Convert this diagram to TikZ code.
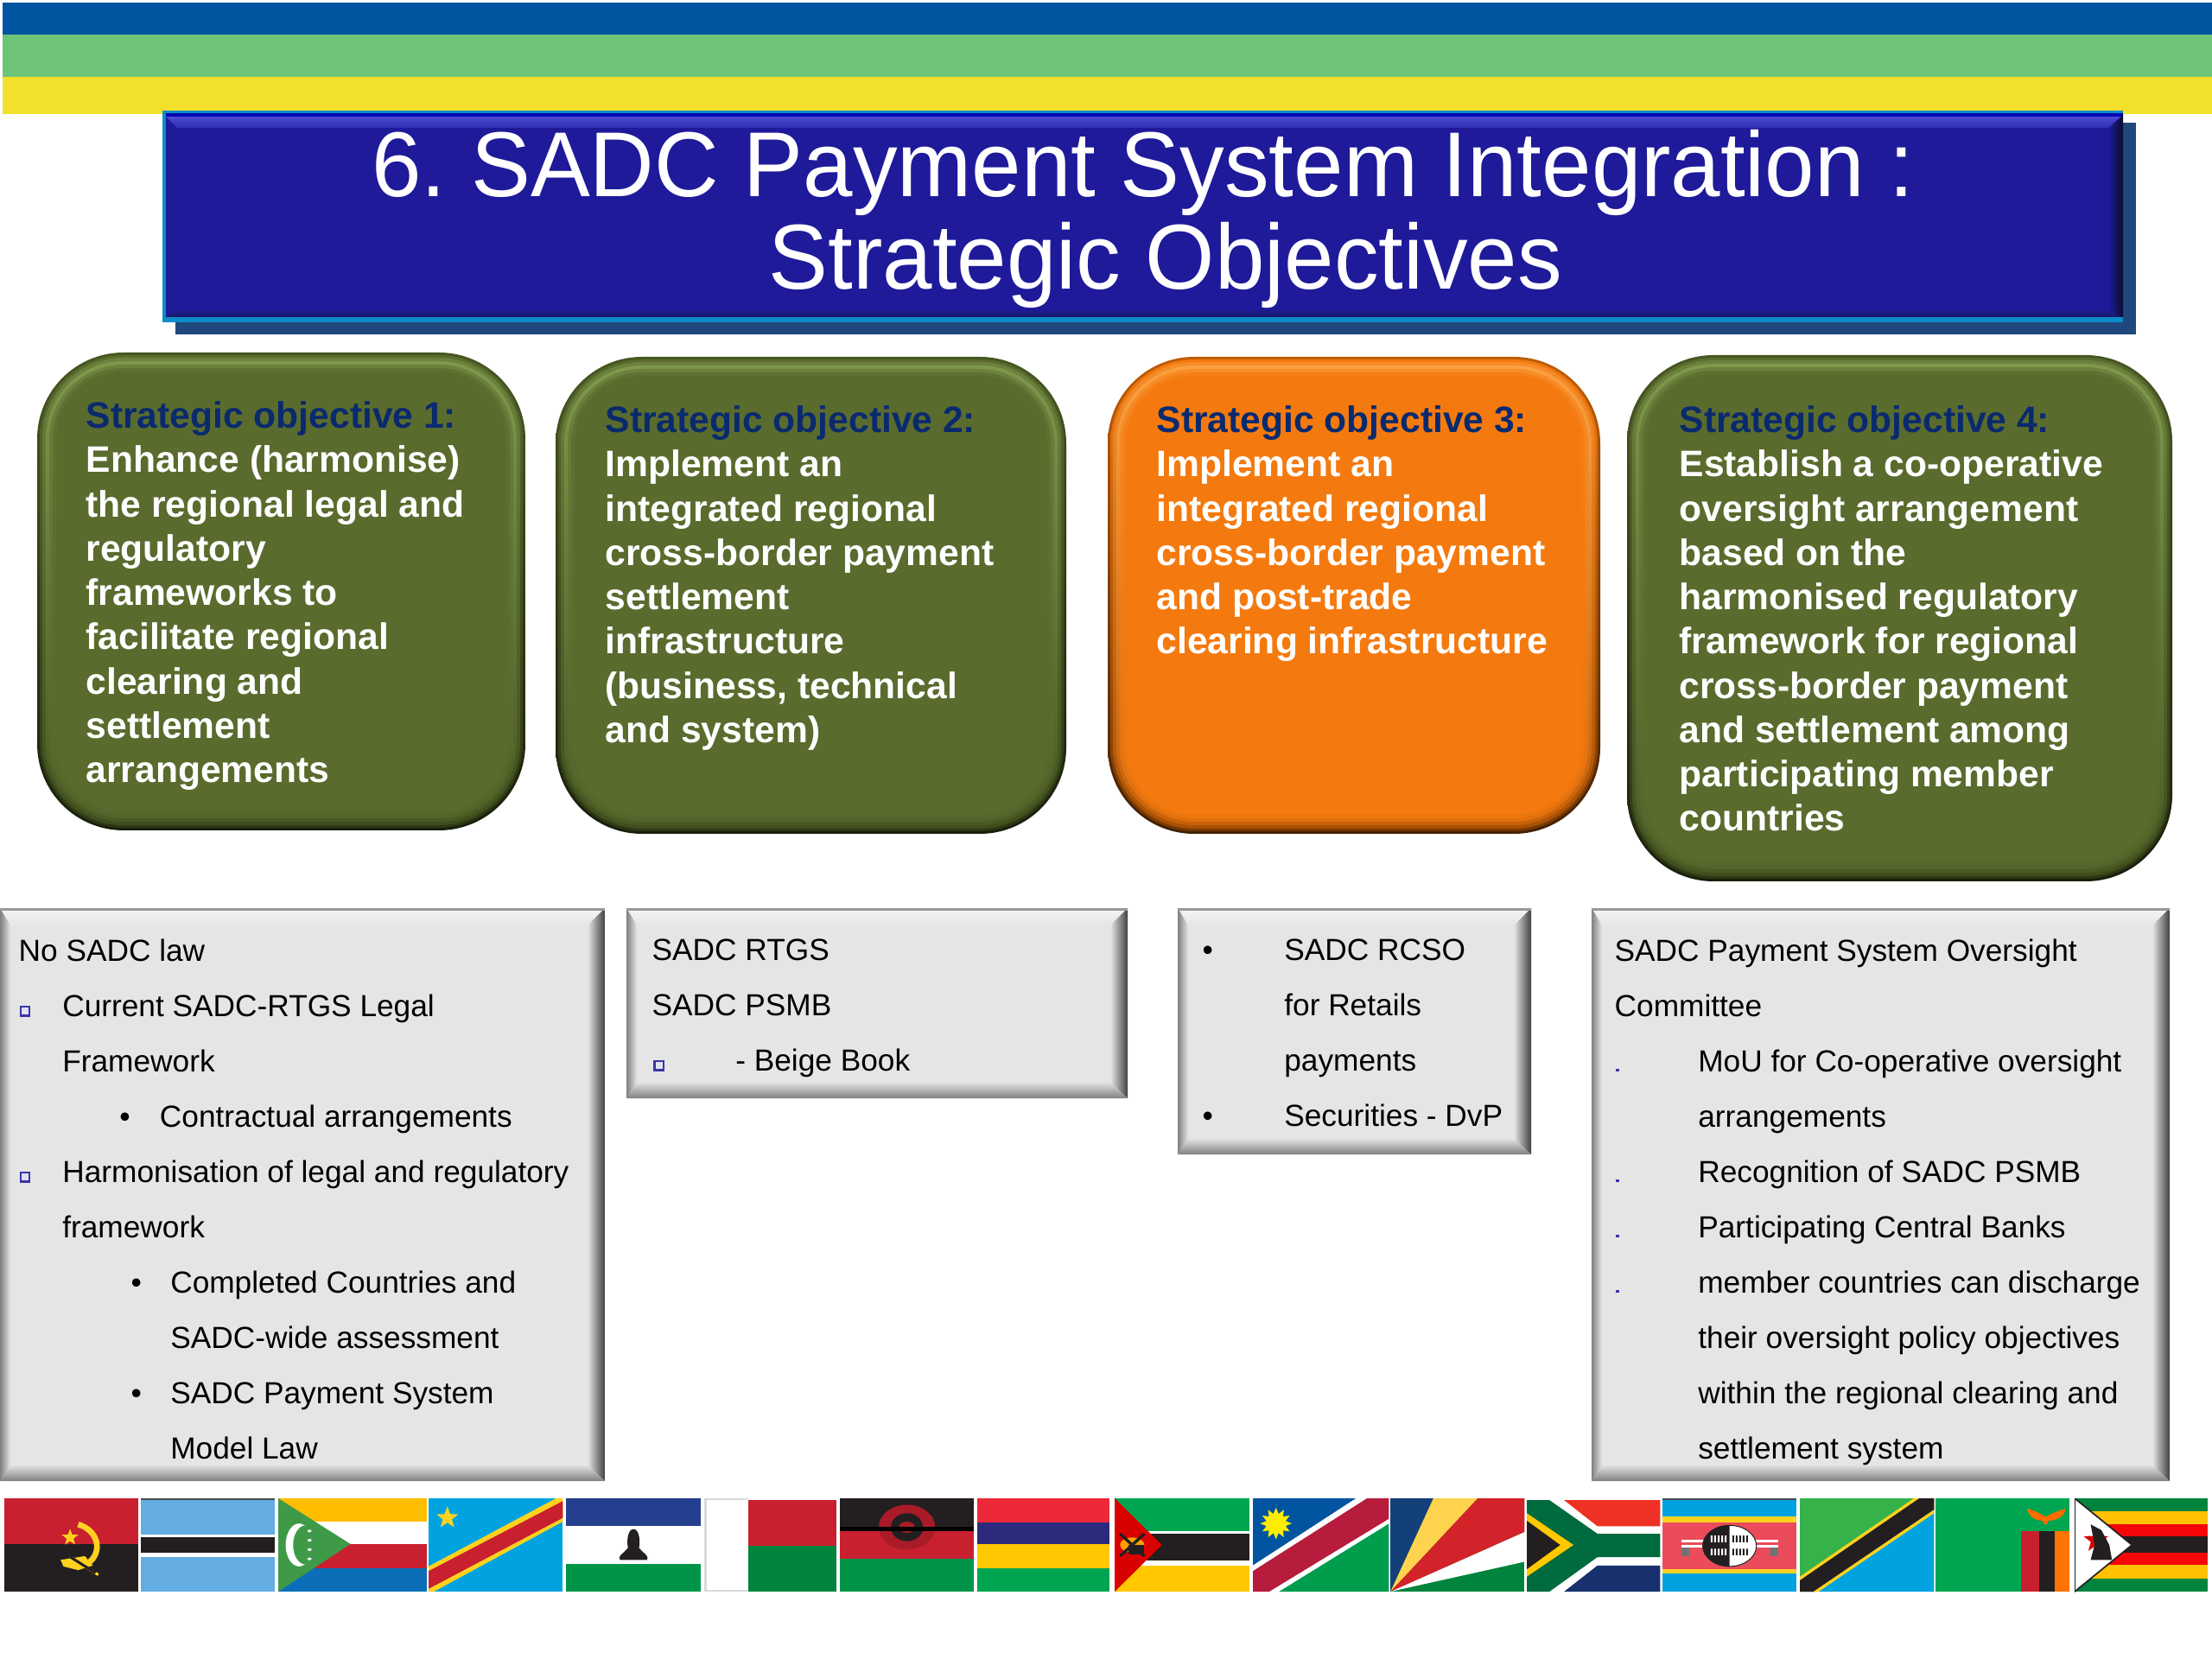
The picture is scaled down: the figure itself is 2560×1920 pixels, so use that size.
\documentclass[tikz,border=0pt]{standalone}
\usepackage{fontspec}
\setmainfont{Liberation Sans}
\newfontfamily\titlefont[FakeStretch=0.968]{Liberation Sans}
\usetikzlibrary{shapes.geometric}
\definecolor{gMain}{HTML}{5A6B2E}
\definecolor{gHi}{HTML}{7E984C}
\definecolor{gLo}{HTML}{3F4E1C}
\definecolor{oMain}{HTML}{F47A0F}
\definecolor{oHi}{HTML}{FBA040}
\definecolor{oLo}{HTML}{A85004}
\definecolor{navy}{HTML}{0A2A6E}
\definecolor{bsqc}{HTML}{3A35A8}
\definecolor{sBlue}{HTML}{0054A0}
\definecolor{sGreen}{HTML}{6EC476}
\definecolor{sYellow}{HTML}{F2E02A}
\definecolor{tFill}{HTML}{1E1A9A}
\definecolor{tEdge}{HTML}{0B8CCB}
\definecolor{tShadow}{HTML}{20487C}
\definecolor{tHi}{HTML}{4B4BD0}
\definecolor{tLo}{HTML}{1A1A66}
\definecolor{fRed}{HTML}{C8202F}
\definecolor{fBlack}{HTML}{231F20}
\definecolor{fYellow}{HTML}{FFC800}
\definecolor{fGreen}{HTML}{00A551}
\definecolor{fDGreen}{HTML}{00843D}
\definecolor{fLBlue}{HTML}{00A3E0}
\definecolor{fNavy}{HTML}{243F8E}
\definecolor{bwSky}{HTML}{63ADE2}
\definecolor{muRed}{HTML}{ED2939}
\definecolor{muNavy}{HTML}{2B2A7C}
\definecolor{naRed}{HTML}{B71C3C}
\definecolor{scBlue}{HTML}{14407A}
\definecolor{scYel}{HTML}{FFD34D}
\definecolor{scRed}{HTML}{D2232A}
\definecolor{zaGreen}{HTML}{006B3F}
\definecolor{zaNavy}{HTML}{17316E}
\definecolor{zaRed}{HTML}{EE3124}
\definecolor{tzGreen}{HTML}{35B34A}
\definecolor{kmBlue}{HTML}{0A6EB8}
\definecolor{kmGreen}{HTML}{3F9A48}
\definecolor{szRed}{HTML}{EC4B5B}
\definecolor{emb}{HTML}{FFD21F}
\tikzset{
 titletext/.style={anchor=north,inner sep=0pt,align=center,text=white,font=\titlefont\frenchspacing\fontsize{32}{32}\selectfont},
 objtext/.style={anchor=north west,inner sep=0pt,align=left,text=white,font=\bfseries\fontsize{12.78}{15.38}\selectfont},
 listtext/.style={anchor=north west,inner sep=0pt,align=left,text=black,font=\fontsize{10.58}{19.2}\selectfont},
 flagstar/.style={star,star points=5,star point ratio=2.4,inner sep=0pt,minimum size=#1}
}
\newcommand\softbox[5]{%
 \foreach \i/\tc/\bc in {0/#5Lo!70!#5Main/black!60!#5Lo,
   3/#5Main/#5Lo!70!black,
   6/#5Hi!50!#5Main/#5Lo,
   10/#5Hi/#5Lo!60!#5Main,
   14/#5Hi!50!#5Main/#5Lo!25!#5Main,
   18/#5Hi!15!#5Main/#5Lo!10!#5Main,
   22/#5Main/#5Main}{%
  \pgfmathsetmacro\rr{(100-\i)*0.3}%
  \shade[rounded corners=\rr pt,top color=\tc,bottom color=\bc]
    ({#1+\i},{#2+\i}) rectangle ({#3-\i},{#4-\i});
 }}
\newcommand\bevelbox[4]{%
 \fill[black!10] (#1,#2) rectangle (#3,#4);
 \shade[top color=white!96!black,bottom color=black!10]
   (#1,#2) -- (#3,#2) -- ({#3-20},{#2+20}) -- ({#1+12},{#2+20}) -- cycle;
 \shade[left color=black!50,right color=black!10]
   (#1,#2) -- ({#1+12},{#2+20}) -- ({#1+12},{#4-18}) -- (#1,#4) -- cycle;
 \shade[left color=black!10,right color=black!75]
   (#3,#2) -- ({#3-20},{#2+20}) -- ({#3-20},{#4-18}) -- (#3,#4) -- cycle;
 \shade[top color=black!12,bottom color=black!50]
   (#1,#4) -- ({#1+12},{#4-18}) -- ({#3-20},{#4-18}) -- (#3,#4) -- cycle;
 \fill[black!40] (#1,#2) rectangle (#3,{#2+3});
}
\newcommand\flagopen[2]{\begin{scope}[shift={(#1,1734)}]\pgfmathsetmacro\fw{(#2)*0.003}\begin{scope}[x=\fw pt,y=-0.324pt]\clip (0,0) rectangle (100,100);}
\newcommand\flagclose{\end{scope}\end{scope}}
\newcommand\bsq{\raisebox{0.1ex}{\setlength\fboxsep{0pt}\setlength\fboxrule{0.7pt}\fcolorbox{bsqc}{white!85!bsqc}{\rule{0pt}{2.4pt}\hspace{2.4pt}}}}
\newcommand\bdot{\textcolor{bsqc}{\rule{1pt}{1pt}}}
\newcommand\itm[3]{\hspace*{#1}\makebox[\dimexpr#2-#1\relax][l]{#3}}
\begin{document}
\begin{tikzpicture}[x=0.3pt,y=-0.3pt]
\useasboundingbox (0,0) rectangle (2560,1920);
\fill[white] (0,0) rectangle (2560,1920);
% top stripes
\fill[sBlue] (3,3) rectangle (2560,40);
\fill[sGreen] (3,40) rectangle (2560,89);
\fill[sYellow] (3,89) rectangle (2560,132);
% title banner
\fill[tShadow] (203,142) rectangle (2472,387);
\fill[tEdge] (188,128) rectangle (2457,373);
\fill[tFill] (192,131) rectangle (2457,367);
\fill[blue!70!black] (192,131) rectangle (2457,135);
\shade[top color=tHi,bottom color=tHi!40!tFill] (192,135) -- (2455,135) -- (2440,148) -- (205,148) -- cycle;
\shade[left color=tFill,right color=black!55!tLo] (2455,135) -- (2440,148) -- (2440,357) -- (2455,367) -- (2457,367) -- (2457,131) -- cycle;
\shade[top color=tFill,bottom color=tLo] (192,367) -- (2455,367) -- (2440,357) -- (205,357) -- cycle;
\node[titletext] (title) at (1349,150) {6. SADC Payment System Integration :\hspace*{15.7pt}\\Strategic Objectives};
% objective boxes
\softbox{43}{408}{608}{961}{g}
\softbox{643}{413}{1234}{965}{g}
\softbox{1282}{413}{1852}{965}{o}
\softbox{1883}{411}{2514}{1020}{g}
\node[objtext] (obj1) at (99,464) {\textcolor{navy}{Strategic objective 1:}\\Enhance (harmonise)\\the regional legal and\\regulatory\\frameworks to\\facilitate regional\\clearing and\\settlement\\arrangements};
\node[objtext] (obj2) at (700,469) {\textcolor{navy}{Strategic objective 2:}\\Implement an\\integrated regional\\cross-border payment\\settlement\\infrastructure\\(business, technical\\and system)};
\node[objtext] (obj3) at (1338,469) {\textcolor{navy}{Strategic objective 3:}\\Implement an\\integrated regional\\cross-border payment\\and post-trade\\clearing infrastructure};
\node[objtext] (obj4) at (1943,469) {\textcolor{navy}{Strategic objective 4:}\\Establish a co-operative\\oversight arrangement\\based on the\\harmonised regulatory\\framework for regional\\cross-border payment\\and settlement among\\participating member\\countries};
% list boxes
\bevelbox{0}{1051}{700}{1714}
\bevelbox{725}{1051}{1305}{1271}
\bevelbox{1363}{1051}{1772}{1336}
\bevelbox{1842}{1051}{2511}{1714}
\node[listtext] (listA) at (21,1086) {No SADC law\\
\itm{0.3pt}{15.2pt}{\bsq}Current SADC-RTGS Legal\\
\hspace*{15.2pt}Framework\\
\itm{35pt}{49pt}{•}Contractual arrangements\\
\itm{0.3pt}{15.2pt}{\bsq}Harmonisation of legal and regulatory\\
\hspace*{15.2pt}framework\\
\itm{39pt}{52.7pt}{•}Completed Countries and\\
\hspace*{52.7pt}SADC-wide assessment\\
\itm{39pt}{52.7pt}{•}SADC Payment System\\
\hspace*{52.7pt}Model Law};
\node[listtext] (listB) at (754,1086) {SADC RTGS\\SADC PSMB\\
\itm{0.5pt}{29pt}{\bsq}- Beige Book};
\node[listtext] (listC) at (1391,1086) {\itm{0pt}{28.4pt}{•}SADC RCSO\\
\hspace*{28.4pt}for Retails\\
\hspace*{28.4pt}payments\\
\itm{0pt}{28.4pt}{•}Securities - DvP};
\node[listtext] (listD) at (1868,1086) {SADC Payment System Oversight\\Committee\\
\itm{0.5pt}{29pt}{\bdot}MoU for Co-operative oversight\\
\hspace*{29pt}arrangements\\
\itm{0.5pt}{29pt}{\bdot}Recognition of SADC PSMB\\
\itm{0.5pt}{29pt}{\bdot}Participating Central Banks\\
\itm{0.5pt}{29pt}{\bdot}member countries can discharge\\
\hspace*{29pt}their oversight policy objectives\\
\hspace*{29pt}within the regional clearing and\\
\hspace*{29pt}settlement system};
% flags
% Angola
\flagopen{5}{155}
\fill[fRed] (0,0) rectangle (100,49);
\fill[fBlack] (0,49) rectangle (100,100);
\draw[emb,line width=2pt] (55,28) .. controls (70,34) and (74,58) .. (62,70);
\fill[emb] (42,66) -- (60,62) -- (66,72) -- (55,77) -- (44,73) -- cycle;
\draw[emb,line width=0.9pt] (48,62) -- (70,82);
\draw[fBlack,line width=0.9pt] (46,60) -- (68,80);
\node[flagstar=6pt,fill=emb] (agstar) at (49,42) {};
\flagclose
% Botswana
\flagopen{163}{155}
\fill[bwSky] (0,0) rectangle (100,100);
\fill[black!70] (0,0) rectangle (100,2);
\fill[white] (0,39) rectangle (100,63);
\fill[fBlack] (0,42) rectangle (100,58);
\flagclose
% Comoros
\flagopen{322}{172}
\fill[fYellow!85!orange] (0,0) rectangle (100,25);
\fill[white] (0,25) rectangle (100,49);
\fill[fRed] (0,49) rectangle (100,75);
\fill[kmBlue] (0,75) rectangle (100,100);
\fill[kmGreen] (0,0) -- (48.5,49) -- (0,100) -- cycle;
\fill[white] (14,50) ellipse [x radius=9,y radius=23];
\fill[kmGreen] (18.5,50) ellipse [x radius=8.5,y radius=21];
\foreach \d in {35,45,55,65}{\fill[white] (21,\d) ellipse [x radius=1.4,y radius=1.4];}
\flagclose
% DR Congo
\flagopen{496}{155}
\fill[fLBlue] (0,0) rectangle (100,100);
\fill[emb] (0,73) -- (95,0) -- (100,0) -- (100,25) -- (4,100) -- (0,100) -- cycle;
\fill[fRed] (0,78) -- (100,3) -- (100,21) -- (0,97) -- cycle;
\node[flagstar=8pt,fill=emb] (cdstar) at (14,21) {};
\flagclose
% Lesotho
\flagopen{655}{156}
\fill[white] (0,0) rectangle (100,100);
\fill[fNavy] (0,0) rectangle (100,30);
\fill[fGreen!90!black] (0,70) rectangle (100,100);
\fill[fBlack] (50,33) .. controls (55,33) and (55,50) .. (54,53) .. controls (58,60) and (62,62) .. (60,66) -- (40,66) .. controls (38,62) and (42,60) .. (46,53) .. controls (45,50) and (45,33) .. (50,33) -- cycle;
\flagclose
% Madagascar
\flagopen{815}{153}
\fill[white] (0,0) rectangle (100,100);
\fill[fRed] (33,2) rectangle (100,51);
\fill[fDGreen] (33,51) rectangle (100,100);
\fill[black!15] (0,0) rectangle (2,100);
\fill[black!15] (0,0) rectangle (33,2);
\fill[black!15] (0,98) rectangle (33,100);
\flagclose
% Malawi
\flagopen{972}{155}
\fill[fBlack] (0,0) rectangle (100,35);
\fill[fRed] (0,35) rectangle (100,65);
\fill[fGreen!90!black] (0,65) rectangle (100,100);
\fill[fRed!85!black] (50,31) ellipse [x radius=21,y radius=24];
\fill[fBlack] (50,31) ellipse [x radius=12,y radius=15];
\fill[fRed!85!black] (50,31) ellipse [x radius=6,y radius=6];
\fill[black] (0,31) rectangle (100,35);
\flagclose
% Mauritius
\flagopen{1131}{153}
\fill[muRed] (0,0) rectangle (100,26);
\fill[muNavy] (0,26) rectangle (100,49);
\fill[fYellow] (0,49) rectangle (100,75);
\fill[fGreen] (0,75) rectangle (100,100);
\flagclose
% Mozambique
\flagopen{1290}{156}
\fill[fGreen] (0,0) rectangle (100,35);
\fill[white] (0,35) rectangle (100,72);
\fill[fBlack] (0,38) rectangle (100,67);
\fill[fYellow] (0,72) rectangle (100,100);
\fill[red!85!black] (0,0) -- (35,50) -- (0,100) -- cycle;
\fill[fYellow!80!red] (13,50) ellipse [x radius=9,y radius=8];
\draw[fBlack,line width=1pt] (4,38) -- (22,62) (22,38) -- (4,62);
\fill[fBlack] (10,50) rectangle (22,60);
\flagclose
% Namibia
\flagopen{1450}{157}
\fill[sBlue] (0,0) -- (76,0) -- (0,72) -- cycle;
\fill[fGreen!95!black] (100,27) -- (100,100) -- (19,100) -- cycle;
\fill[white] (0,72) -- (76,0) -- (100,0) -- (100,27) -- (19,100) -- (0,100) -- cycle;
\fill[naRed] (0,78) -- (84,0) -- (100,0) -- (100,22) -- (12,100) -- (0,100) -- cycle;
\node[star,star points=12,star point ratio=1.6,inner sep=0pt,minimum size=11pt,fill=yellow!95!orange] (nasun) at (17,27) {};
\flagclose
% Seychelles
\flagopen{1609}{155}
\fill[fDGreen] (0,0) rectangle (100,100);
\fill[white] (0,100) -- (100,36) -- (100,68) -- cycle;
\fill[scRed] (0,100) -- (65,0) -- (100,0) -- (100,36) -- cycle;
\fill[scYel] (0,100) -- (32,0) -- (65,0) -- cycle;
\fill[scBlue] (0,100) -- (0,0) -- (32,0) -- cycle;
\flagclose
% South Africa
\flagopen{1767}{154}
\fill[white] (0,0) rectangle (100,100);
\fill[zaRed] (28,2) -- (100,2) -- (100,30) -- (53,30) -- cycle;
\fill[zaNavy] (28,100) -- (100,100) -- (100,72) -- (53,72) -- cycle;
\fill[zaGreen] (0,2) -- (17,2) -- (53,38) -- (100,38) -- (100,63) -- (53,63) -- (17,100) -- (0,100) -- cycle;
\fill[fYellow] (0,16) -- (35,50) -- (0,84) -- cycle;
\fill[fBlack] (0,24) -- (25,50) -- (0,76) -- cycle;
\flagclose
% Eswatini
\flagopen{1924}{155}
\fill[fLBlue] (0,0) rectangle (100,100);
\fill[black!70] (0,0) rectangle (100,2);
\fill[emb] (0,19) rectangle (100,81);
\fill[szRed] (0,26) rectangle (100,76);
\fill[white] (14,44) rectangle (86,47);
\fill[white] (14,50) rectangle (86,53);
\fill[black!55] (14,53) rectangle (20,62) (80,53) rectangle (86,62);
\fill[white] (50,51) ellipse [x radius=20,y radius=22];
\begin{scope}
\clip (30,29) rectangle (50,73);
\fill[fBlack] (50,51) ellipse [x radius=20,y radius=22];
\end{scope}
\draw[fBlack,line width=0.3pt] (50,51) ellipse [x radius=20,y radius=22];
\foreach \k in {0,1,2,3,4}{\fill[white] ({36+\k*2.6},40) rectangle ({37.3+\k*2.6},47) ({36+\k*2.6},54) rectangle ({37.3+\k*2.6},61);
 \fill[fBlack] ({52+\k*2.6},40) rectangle ({53.3+\k*2.6},47) ({52+\k*2.6},54) rectangle ({53.3+\k*2.6},61);}
\flagclose
% Tanzania
\flagopen{2083}{155}
\fill[tzGreen] (0,0) rectangle (100,100);
\fill[fLBlue] (100,0) -- (100,100) -- (0,100) -- cycle;
\fill[emb] (0,84) -- (85,0) -- (100,0) -- (100,16) -- (14,100) -- (0,100) -- cycle;
\fill[fBlack] (0,88) -- (89,0) -- (100,0) -- (100,12) -- (10,100) -- (0,100) -- cycle;
\flagclose
% Zambia
\flagopen{2240}{155}
\fill[fGreen] (0,0) rectangle (100,100);
\fill[fRed] (64,35) rectangle (77,100);
\fill[fBlack] (77,35) rectangle (89,100);
\fill[orange!90!red] (89,35) rectangle (100,100);
\fill[orange!85!red] (68,11) .. controls (76,14) and (80,18) .. (82,20) .. controls (84,18) and (90,14) .. (97,11) .. controls (96,20) and (90,24) .. (84,24) -- (83,28) -- (81,28) -- (80,24) .. controls (74,24) and (70,20) .. (68,11) -- cycle;
\flagclose
% Zimbabwe
\flagopen{2401}{154}
\fill[fDGreen] (0,0) rectangle (100,100);
\fill[fYellow!90!orange] (0,14) rectangle (100,86);
\fill[red!80!fRed] (0,28) rectangle (100,71);
\fill[fBlack] (0,41) rectangle (100,58);
\fill[white,draw=fBlack,line width=0.5pt] (0,0) -- (43,50) -- (0,100) -- cycle;
\node[flagstar=9pt,fill=red!85!black] (zwstar) at (16,45) {};
\fill[fBlack] (12,28) -- (20,34) -- (26,50) -- (28,66) -- (12,66) -- (15,50) -- cycle;
\flagclose
\end{tikzpicture}
\end{document}
